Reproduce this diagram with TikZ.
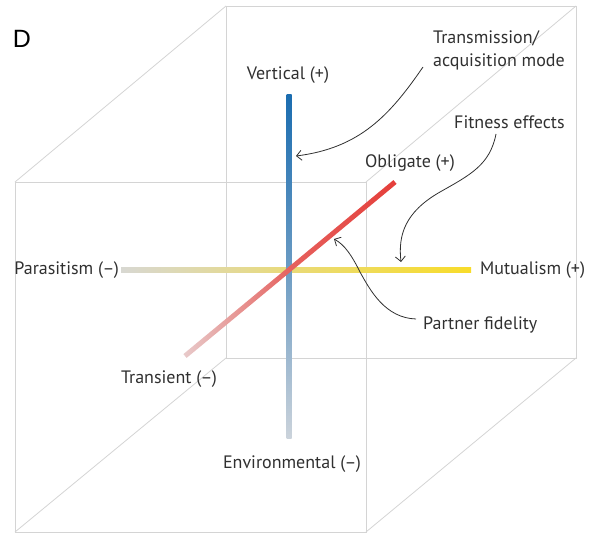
\documentclass[tikz,border=0pt]{standalone}
\usepackage{fontspec}
\setmainfont{PT Sans}
\newfontfamily\panelfont{Liberation Sans}
\usetikzlibrary{arrows.meta}

\definecolor{cubegray}{HTML}{D4D4D4}
\definecolor{labelgray}{HTML}{303030}
\definecolor{blueA}{HTML}{1B6DB0}
\definecolor{blueB}{HTML}{CBD3DB}
\definecolor{redA}{HTML}{E53E3A}
\definecolor{redB}{HTML}{E8CBCB}
\definecolor{yelA}{HTML}{F8DC2A}
\definecolor{yelB}{HTML}{D8D8D2}

\tikzset{
  cubeline/.style={draw=cubegray, line width=0.8pt},
  axislabel/.style={text=labelgray, font=\fontsize{18}{23}\selectfont, inner sep=0pt},
  callout/.style={draw=labelgray, line width=0.8pt, -{Straight Barb[length=5pt,width=10pt]}},
}

\begin{document}
\begin{tikzpicture}[x=1pt, y=-1pt]
\useasboundingbox (0,0) rectangle (600,535);

% cube corners (front face, back face)
\coordinate (ftl) at (15,182);  \coordinate (ftr) at (366,182);
\coordinate (fbl) at (15,532);  \coordinate (fbr) at (366,532);
\coordinate (btl) at (226,6);   \coordinate (btr) at (576,6);
\coordinate (bbl) at (226,358); \coordinate (bbr) at (576,358);

\draw[cubeline] (btl) -- (btr) -- (bbr) -- (bbl) -- cycle;
\draw[cubeline] (ftl) -- (ftr) -- (fbr) -- (fbl) -- cycle;
\draw[cubeline] (ftl) -- (btl) (ftr) -- (btr) (fbl) -- (bbl) (fbr) -- (bbr);

% axis end points
\coordinate (vtop) at (289,95);  \coordinate (vbot) at (289,438);
\coordinate (hleft) at (121,270); \coordinate (hright) at (471,270);
\coordinate (dlow) at (185,356); \coordinate (dhigh) at (395,182);

% horizontal axis: parasitism -> mutualism
\shade[left color=yelB, right color=yelA, middle color=yelA!55!yelB]
  (121,267.5) rectangle (471,272.5);
% vertical axis: environmental -> vertical
\shade[top color=blueA, bottom color=blueB, middle color=blueA!55!blueB]
  (286.5,95) rectangle (291.5,438);
% diagonal axis: transient -> obligate
\shade[left color=redB, right color=redA, middle color=redA!75!redB]
  (183.4,354.1) -- (393.4,180.1) -- (396.6,183.9) -- (186.6,357.9) -- cycle;

% panel letter
\node[text=black, font=\panelfont\fontsize{25}{27}\selectfont, inner sep=0pt] (panel) at (22,39) {D};

% axis labels
\node[axislabel] (vert) at (288,75) {Vertical (+)};
\node[axislabel] (env) at (292,464) {Environmental (–)};
\node[axislabel, anchor=east] (para) at (119,270) {Parasitism (–)};
\node[axislabel, anchor=west] (mutu) at (480,270) {Mutualism (+)};
\node[axislabel] (obli) at (410,163) {Obligate (+)};
\node[axislabel] (tran) at (169,379) {Transient (–)};

% annotation labels
\node[axislabel, anchor=west, align=left] (trans) at (433,50)
  {Transmission/\\acquisition mode};
\node[axislabel, anchor=west] (fit) at (454,122) {Fitness effects};
\node[axislabel, anchor=west] (fid) at (423,325) {Partner fidelity};

% callout arrows
\coordinate (transtip) at (296,156);
\coordinate (fittip) at (401,262);
\coordinate (fidtip) at (334,239);
\draw[callout] (423,67) .. controls (390,115) and (360,148) .. (transtip);
\draw[callout] (496,134) .. controls (490,165) and (470,175) .. (440,192)
  .. controls (405,212) and (398,235) .. (fittip);
\draw[callout] (416,319) .. controls (385,318) and (370,290) .. (360,272)
  .. controls (352,256) and (345,245) .. (fidtip);
\end{tikzpicture}
\end{document}
